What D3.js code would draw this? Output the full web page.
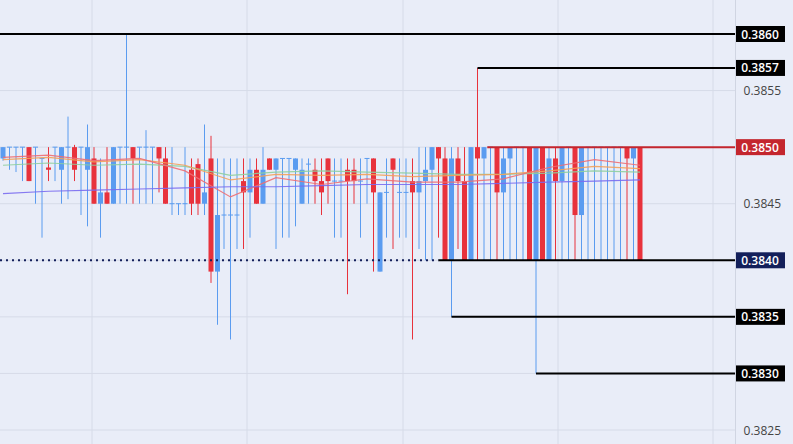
<!DOCTYPE html>
<html><head><meta charset="utf-8">
<script src="https://cdn.jsdelivr.net/npm/d3@7/dist/d3.min.js"></script>
<style>body{margin:0;background:#e9edf8}svg{display:block}</style></head>
<body><svg id="c" width="793" height="444"></svg>
<script>
// candles: [open, high, low, close] in units of 0.0001 above 0.3800
const candles = [
[49,50,48.8,50],[50,50,48,50],[50,50,47.8,50],[50,50,47,50],[50,50,47,47],[50,50,45,50],[49,49,42,49],[48.2,50,47,48],
[50,50,47,50],[48,50,45,50],[50,52.7,45.4,50],[50,50.2,47,48],[50,50,44,50],[48,52,43,50],[49,50,45,45],[45,49,42,46],
[46,50,45,45],[45,50,45,50],[50,50,45,50],[50,60,45,50],[50,50,45,49],[50,50,45,50],[50,51.5,45,50],[50,50,45,50],
[50,50,46,49],[49,50,45,45],[45,50,44,45],[45,45,44,45],[45,50,44,45],[48,49,44,45],[48.5,49,44,45],[45,52,44,46],
[49,51,38,39],[39,49,34.3,44],[44,49,41,44],[44,49,33,44],[44,49,41,44],[47,49,41,46],[46,49,42,48],[48,49,45,45],
[45,50,45,48],[49,49,48,48],[48,49,41,49],[49,49,42,49],[49,49,42,49],[48,49,43,49],[45,49,45,48],[48.5,49,45,48.5],
[48,49,45,47],[47,49,44,46],[49,49,45,47],[47,49,42,47],[47,49,42,47],[48,49,37,47],[48,49,45,47],[47,49,42,47],
[49,49,45,49],[49,49,39,46],[39,46,39,46],[46,49,42,46],[49,49,41,48],[46,49,42,46],[46,49,42,46],[47,49,33,46],
[46,50,41,47],[47,50,40,48],[48,50,40,50],[50,50,42,49],[49,50,40,40],[40,50,35,49],[49,50,41,47],[47,50,40,40],
[40,50,40,50],[50,57,40,49],[49,50,40,50],[50,50,40,50],[50,50,40,46],[46,50,40,49],[49,50,40,50],[50,50,40,50],
[50,50,40,50],[50,50,40,40],[40,50,30,50],[50,50,40,40],[40,50,40,49],[49,50,40,47],[47,50,40,50],[50,50,40,50],
[50,50,40,44],[44,50,40,50],[50,50,40,50],[50,50,40,50],[50,50,40,50],[50,50,40,50],[50,50,40,50],[50,50,40,50],
[50,50,40,49],[49,50,40,50],[50,50,40,40]
];
const maIdx = [0,7,14,21,28,35,42,49,56,63,70,77,84,91,98];
const maPurple = [45.9,46.1,46.2,46.3,46.4,46.5,46.5,46.6,46.7,46.7,46.7,46.8,46.9,47.0,47.1];
const maPink   = [49.1,49.3,48.8,49.0,47.9,45.6,47.3,46.7,47.2,46.9,46.9,47.2,48.2,48.9,48.4];
const maOrange = [48.9,49.1,48.7,48.9,48.4,47.1,47.6,47.5,47.6,47.4,47.5,47.6,47.9,48.3,48.1];
const maGreen  = [48.4,48.6,48.4,48.5,48.3,47.5,47.8,47.9,47.8,47.7,47.6,47.6,47.7,47.9,47.8];
const axisTicks = ["0.3825","0.3845","0.3855"];
const levels = [
 {v:60, from:-1, label:"0.3860", color:"#000"},
 {v:57, from:73, label:"0.3857", color:"#000"},
 {v:50, from:74.5, label:"0.3850", color:"#c4262e"},
 {v:40, from:67, label:"0.3840", color:"#131f5a", dotted:true},
 {v:35, from:69, label:"0.3835", color:"#000"},
 {v:30, from:82, label:"0.3830", color:"#000"}
];
const svg = d3.select("#c");
const y = d3.scaleLinear().domain([60,25]).range([34,430]);
const x = d3.scaleLinear().domain([0,98]).range([3,640]);
[92,247,403,558,713].forEach(gx=>svg.append("line").attr("x1",gx).attr("x2",gx).attr("y1",0).attr("y2",444).attr("stroke","#d6dbe8"));
d3.range(25,61,5).forEach(v=>svg.append("line").attr("x1",0).attr("x2",735).attr("y1",y(v)).attr("y2",y(v)).attr("stroke","#d6dbe8"));
svg.append("line").attr("x1",735.5).attr("x2",735.5).attr("y1",0).attr("y2",444).attr("stroke","#d0d5e2");
const g = svg.append("g");
candles.forEach((c,i)=>{
  const [o,h,l,cl]=c, up = cl>=o, col = up?"#5b9cf0":"#e8323c", cx=x(i);
  g.append("line").attr("x1",cx).attr("x2",cx).attr("y1",y(h)).attr("y2",y(l)).attr("stroke",col).attr("stroke-width",1);
  const t=y(Math.max(o,cl)), b=y(Math.min(o,cl));
  if (b-t<1) g.append("line").attr("x1",cx-2.5).attr("x2",cx+2.5).attr("y1",t).attr("y2",t).attr("stroke",col);
  else g.append("rect").attr("x",cx-2.5).attr("width",5).attr("y",t).attr("height",b-t).attr("fill",col);
});
const line = d3.line().x(d=>x(d[0])).y(d=>y(d[1]));
[[maGreen,"#8fcf9f"],[maOrange,"#f3a05a"],[maPink,"#ee6e73"],[maPurple,"#7a6cf0"]].forEach(([arr,col])=>{
  svg.append("path").attr("d",line(maIdx.map((k,j)=>[k,arr[j]]))).attr("fill","none").attr("stroke",col).attr("stroke-width",1.2).attr("opacity",0.9);
});
levels.forEach(L=>{
  const yy=y(L.v);
  if (L.dotted){
    svg.append("line").attr("x1",0).attr("x2",x(L.from)).attr("y1",yy).attr("y2",yy).attr("stroke",L.color).attr("stroke-width",2).attr("stroke-dasharray","2,4");
    svg.append("line").attr("x1",x(L.from)).attr("x2",735).attr("y1",yy).attr("y2",yy).attr("stroke","#000").attr("stroke-width",2);
  } else {
    svg.append("line").attr("x1",L.from<0?0:x(L.from)).attr("x2",735).attr("y1",yy).attr("y2",yy).attr("stroke",L.color).attr("stroke-width",2);
  }
  svg.append("rect").attr("x",736).attr("y",yy-8).attr("width",49).attr("height",16).attr("fill",L.color);
  svg.append("text").attr("x",760).attr("y",yy+4.5).attr("text-anchor","middle").attr("fill","#fff").attr("font-family","Open Sans, sans-serif").attr("font-weight","600").attr("font-size",12).text(L.label);
});
axisTicks.forEach(t=>{
  const v=(+t-0.38)*10000;
  svg.append("text").attr("x",781).attr("y",y(v)+4.5).attr("text-anchor","end").attr("fill","#444").attr("font-family","Open Sans, sans-serif").attr("font-size",12).text(t);
});
</script></body></html>
